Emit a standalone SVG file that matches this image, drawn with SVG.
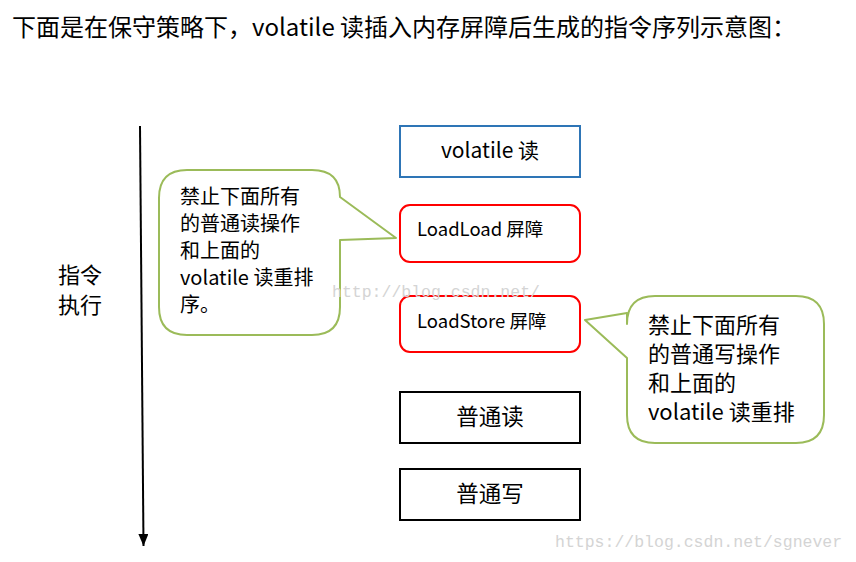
<svg xmlns="http://www.w3.org/2000/svg" width="856" height="562" viewBox="0 0 856 562">
<defs>
<marker id="ah" markerWidth="12" markerHeight="10" refX="12" refY="5" orient="auto" markerUnits="userSpaceOnUse" viewBox="0 0 12 10">
<path d="M0,0 L12,5 L0,10 Z" fill="#000"/>
</marker>
</defs>
<style>
text{font-family:"Noto Sans CJK SC","Noto Sans",sans-serif;fill:#000}
.box{fill:#fff;stroke-width:2}
.call{fill:#fff;stroke:#9BBB59;stroke-width:2;stroke-linejoin:round}
.wm{font-family:"Liberation Mono",monospace;fill:#d4d4d4;font-size:16.5px}
</style>
<rect width="856" height="562" fill="#fff"/>
<text x="12" y="36" font-size="24">下面是在保守策略下，volatile 读插入内存屏障后生成的指令序列示意图：</text>

<g id="axis">
<line x1="140" y1="126" x2="143.5" y2="546" stroke="#000" stroke-width="2" marker-end="url(#ah)"/>
<text x="58" y="283" font-size="22">指令</text>
<text x="58" y="313" font-size="22">执行</text>
</g>

<g id="n1">
<rect class="box" x="400" y="126" width="180" height="51" stroke="#2E75B6"/>
<text x="490" y="158" font-size="21" text-anchor="middle">volatile 读</text>
</g>
<g id="n2">
<rect class="box" x="400" y="205" width="180" height="57" rx="10" stroke="#FF0000"/>
<text x="417" y="236" font-size="18.5">LoadLoad 屏障</text>
</g>
<g id="n3">
<rect class="box" x="400" y="296" width="180" height="56" rx="10" stroke="#FF0000"/>
<text x="417" y="328" font-size="18.5">LoadStore 屏障</text>
</g>
<g id="n4">
<rect class="box" x="400" y="392" width="180" height="51" stroke="#000"/>
<text x="490" y="425" font-size="22.5" text-anchor="middle">普通读</text>
</g>
<g id="n5">
<rect class="box" x="400" y="469" width="180" height="51" stroke="#000"/>
<text x="490" y="502" font-size="22.5" text-anchor="middle">普通写</text>
</g>

<g id="callout1">
<path class="call" d="M187,170 H312 Q340,170 340,197 L396,238 L340,240 V307 Q340,335 312,335 H187 Q159,335 159,307 V198 Q159,170 187,170 Z"/>
<text font-size="20"><tspan x="180" y="204">禁止下面所有</tspan><tspan x="180" y="231">的普通读操作</tspan><tspan x="180" y="258">和上面的</tspan><tspan x="180" y="285">volatile 读重排</tspan><tspan x="180" y="312">序。</tspan></text>
</g>

<g id="callout2">
<path class="call" d="M655,296 H796 Q824,296 824,324 V415 Q824,443 796,443 H655 Q627,443 627,415 V358 L585,320 L627,313 V324 Q627,296 655,296 Z"/>
<text font-size="22"><tspan x="648" y="333">禁止下面所有</tspan><tspan x="648" y="362">的普通写操作</tspan><tspan x="648" y="391">和上面的</tspan><tspan x="648" y="420">volatile 读重排</tspan></text>
</g>

<text class="wm" x="332" y="297">http://blog.csdn.net/</text>
<text class="wm" x="555" y="547">https://blog.csdn.net/sgnever</text>
</svg>
